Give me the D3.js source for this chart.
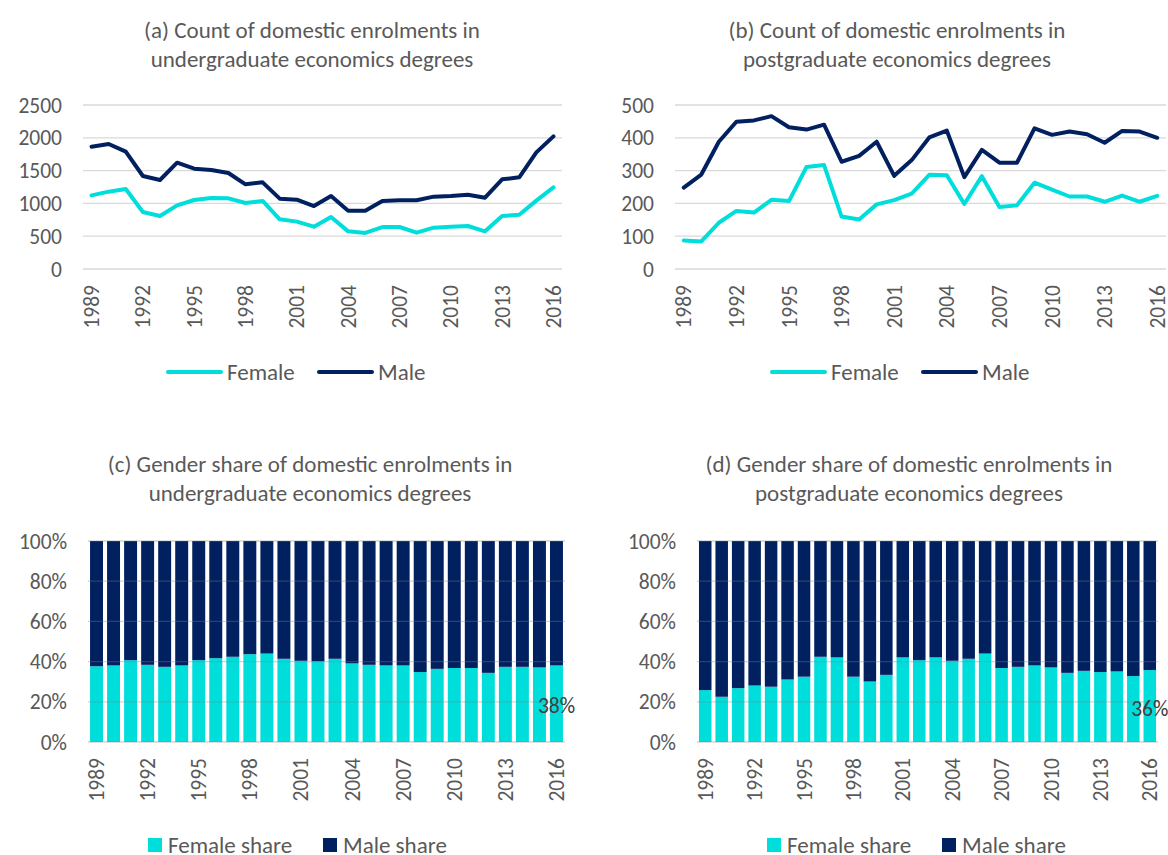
<!DOCTYPE html>
<html>
<head>
<meta charset="utf-8">
<script src="https://cdn.jsdelivr.net/npm/d3@7"></script>
<style>
html,body{margin:0;padding:0;background:#fff;}
svg{display:block;}
text{font-family:Carlito, Calibri, Lato, sans-serif;}
</style>
</head>
<body>
<div id="chart"></div>
<script>
// ---------- DATA ----------
const years = ["1989","1990","1991","1992","1993","1994","1995","1996","1997","1998","1999","2000","2001","2002","2003","2004","2005","2006","2007","2008","2009","2010","2011","2012","2013","2014","2015","2016"];
const tickYears = ["1989","1992","1995","1998","2001","2004","2007","2010","2013","2016"];

// (a) undergraduate counts
const ugFemale = [1123,1179,1220,869,808,970,1052,1082,1077,1006,1037,757,722,645,793,574,549,640,640,554,630,645,655,574,808,828,1042,1245];
const ugMale   = [1865,1905,1789,1418,1357,1621,1530,1509,1463,1291,1321,1072,1057,960,1113,889,889,1037,1047,1047,1103,1113,1133,1087,1367,1397,1778,2022];

// (b) postgraduate counts
const pgFemale = [87,84,141,177,172,211,207,311,317,160,151,197,210,230,287,286,198,283,189,194,263,242,221,221,205,224,205,223];
const pgMale   = [248,288,388,449,453,466,432,425,440,327,345,388,284,332,401,422,280,363,324,324,429,409,419,411,385,421,419,400];

// (c) / (d) female share (%)
const ugFemaleShare = [37.7,38.1,40.7,38.4,37.4,38.1,40.7,41.7,42.4,43.7,44.0,41.4,40.4,40.1,41.4,39.1,38.4,38.1,38.1,34.8,36.4,36.8,36.8,34.4,37.4,37.4,37.1,38.1];
const pgFemaleShare = [25.8,22.5,26.8,28.1,27.5,31.1,32.5,42.4,42.1,32.5,30.1,33.4,42.1,40.7,42.1,40.4,41.4,44.0,36.8,37.4,38.1,37.1,34.4,35.4,34.8,35.1,32.8,35.8];

const ugLastLabel = "38%";
const pgLastLabel = "36%";

const countTicksA = [0,500,1000,1500,2000,2500];
const countTicksB = [0,100,200,300,400,500];
const shareTicks = [0,20,40,60,80,100];

// ---------- STYLE ----------
const CYAN = "#00DEDC";
const NAVY = "#00205F";
const GRID = "#D9D9D9";
const TXT = "#595959";
const FS = 21.5;   // tick labels
const FT = 23;     // titles & legends

const svg = d3.select("#chart").append("svg").attr("width",1168).attr("height",855);

function title(cx, yb, lines){
  const t = svg.append("text").attr("text-anchor","middle").attr("fill",TXT).style("font-size",FT+"px");
  lines.forEach((l,i)=>t.append("tspan").attr("x",cx).attr("y",yb+i*29).text(l));
}

function yAxisGrid(g, y, ticks, x0, x1, fmt){
  g.selectAll(".ytl").data(ticks).join("text")
    .attr("x", x0-21).attr("y", d=>y(d)).attr("dy","0.35em")
    .attr("text-anchor","end").attr("fill",TXT).style("font-size",FS+"px")
    .text(fmt);
}

function xLabels(g, x, yAxis){
  g.selectAll(".xtl").data(tickYears).join("text")
    .attr("transform", d=>`translate(${x(d)},${yAxis+16}) rotate(-90)`)
    .attr("dy","0.35em").attr("text-anchor","end")
    .attr("fill",TXT).style("font-size",FS+"px").text(d=>d);
}

function linePanel(o){
  const g = svg.append("g");
  const x = d3.scalePoint().domain(years).range([o.x0,o.x1]).padding(0.5);
  const y = d3.scaleLinear().domain([0,o.ymax]).range([o.y0,o.y1]);
  g.selectAll(".grid").data(o.ticks).join("line")
    .attr("x1",o.x0).attr("x2",o.x1).attr("y1",d=>y(d)).attr("y2",d=>y(d))
    .attr("stroke",GRID).attr("stroke-width",1.3);
  yAxisGrid(g,y,o.ticks,o.x0,o.x1,d=>d);
  xLabels(g,x,o.y0);
  const line = d3.line().x((d,i)=>x(years[i])).y(d=>y(d));
  [[o.female,CYAN],[o.male,NAVY]].forEach(([s,c])=>{
    g.append("path").datum(s).attr("d",line).attr("fill","none")
      .attr("stroke",c).attr("stroke-width",4).attr("stroke-linejoin","round").attr("stroke-linecap","round");
  });
  const L = o.legend;
  [[L.f, CYAN, "Female"],[L.m, NAVY, "Male"]].forEach(([lx,c,name])=>{
    g.append("line").attr("x1",lx).attr("x2",lx+53).attr("y1",L.y).attr("y2",L.y)
      .attr("stroke",c).attr("stroke-width",4).attr("stroke-linecap","round");
    g.append("text").attr("x",lx+59).attr("y",L.y).attr("dy","0.35em")
      .attr("fill",TXT).style("font-size",FT+"px").text(name);
  });
}

function barPanel(o){
  const g = svg.append("g");
  const x = d3.scaleBand().domain(years).range([o.x0,o.x1]).paddingInner(0.24).paddingOuter(0.12);
  const xp = d3.scalePoint().domain(years).range([o.x0,o.x1]).padding(0.5);
  const y = d3.scaleLinear().domain([0,100]).range([o.y0,o.y1]);
  const rows = years.map((yr,i)=>({year:yr, female:o.share[i], male:100-o.share[i]}));
  const stack = d3.stack().keys(["female","male"])(rows);
  const colors = {female:CYAN, male:NAVY};
  stack.forEach(layer=>{
    g.selectAll(".b"+layer.key).data(layer).join("rect")
      .attr("x",d=>x(d.data.year)).attr("width",x.bandwidth())
      .attr("y",d=>y(d[1])).attr("height",d=>y(d[0])-y(d[1]))
      .attr("fill",colors[layer.key]);
  });
  g.selectAll(".grid").data(shareTicks).join("line")
    .attr("x1",o.x0).attr("x2",o.x1).attr("y1",d=>y(d)).attr("y2",d=>y(d))
    .attr("stroke","#808080").attr("stroke-opacity",0.35).attr("stroke-width",1.3);
  yAxisGrid(g,y,shareTicks,o.x0,o.x1,d=>d+"%");
  xLabels(g,xp,o.y0);
  const last = rows[rows.length-1];
  g.append("text").attr("x", x(last.year)+x.bandwidth()/2).attr("y", y(last.female/2)+2)
    .attr("dy","0.35em").attr("text-anchor","middle").attr("fill","#404040")
    .style("font-size",FS+"px").text(o.lastLabel);
  const L = o.legend;
  [[L.f, CYAN, "Female share"],[L.m, NAVY, "Male share"]].forEach(([lx,c,name])=>{
    g.append("rect").attr("x",lx).attr("y",L.y-7).attr("width",14).attr("height",14).attr("fill",c);
    g.append("text").attr("x",lx+20).attr("y",L.y).attr("dy","0.35em")
      .attr("fill",TXT).style("font-size",FT+"px").text(name);
  });
}

// ---------- PANELS ----------
title(312, 38, ["(a) Count of domestic enrolments in","undergraduate economics degrees"]);
title(897, 38, ["(b) Count of domestic enrolments in","postgraduate economics degrees"]);
title(310, 472, ["(c) Gender share of domestic enrolments in","undergraduate economics degrees"]);
title(909, 472, ["(d) Gender share of domestic enrolments in","postgraduate economics degrees"]);

linePanel({x0:83, x1:562, y0:269, y1:105, ymax:2500, ticks:countTicksA,
  female:ugFemale, male:ugMale, legend:{f:168, m:319, y:372}});
linePanel({x0:675, x1:1166, y0:269, y1:105, ymax:500, ticks:countTicksB,
  female:pgFemale, male:pgMale, legend:{f:772, m:923, y:372}});
barPanel({x0:88, x1:565, y0:742, y1:541, share:ugFemaleShare, lastLabel:ugLastLabel,
  legend:{f:148, m:323, y:845}});
barPanel({x0:697, x1:1158, y0:742, y1:541, share:pgFemaleShare, lastLabel:pgLastLabel,
  legend:{f:767, m:942, y:845}});
</script>
</body>
</html>
